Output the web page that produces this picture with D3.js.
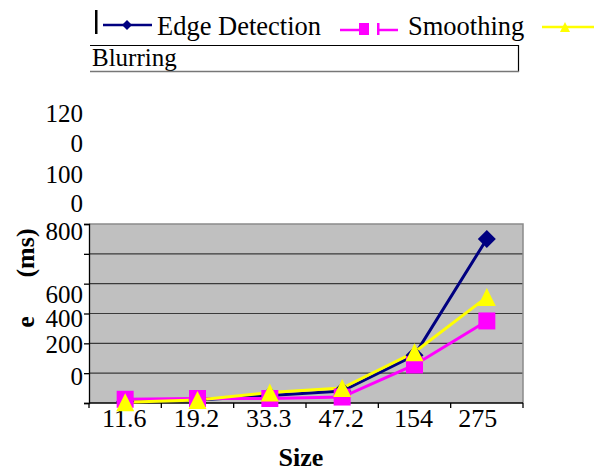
<!DOCTYPE html>
<html>
<head>
<meta charset="utf-8">
<script src="https://cdn.jsdelivr.net/npm/d3@7"></script>
</head>
<body style="margin:0;padding:0;background:#fff">
<svg id="chart" width="594" height="471" style="display:block"></svg>
<script>
// ---- data ----
const categories = ["11.6", "19.2", "33.3", "47.2", "154", "275"];
const edgeDetection = [10, 20, 50, 80, 320, 1100];
const smoothing = [25, 30, 30, 40, 255, 550];
const blurring = [5, 20, 70, 100, 340, 710];
const seriesNames = ["Edge Detection", "Smoothing", "Blurring"];
const yTicks = [0, 200, 400, 600, 800, 1000, 1200];
// labels as they appear (wrapped / clipped in the original)
const yTickLabelLines = ["120", "0", "100", "0", "800", "600", "400", "200", "0"];
const xTitle = "Size";
const yTitleParts = ["e", "(ms)"];

// ---- layout ----
const FONT = '"Liberation Serif"';
const svg = d3.select("#chart");
const plot = { left: 89, right: 523, top: 224, bottom: 403 };
const fontSize = 25;

const x = d3.scaleBand().domain(categories).range([plot.left, plot.right]).padding(0);
const y = d3.scaleLinear().domain([0, 1200]).range([plot.bottom, plot.top]);

function txt(sel) { return sel.style("font-family", FONT).attr("fill", "#000"); }

// plot background
svg.append("rect")
  .attr("x", plot.left).attr("y", plot.top)
  .attr("width", plot.right - plot.left).attr("height", plot.bottom - plot.top)
  .attr("fill", "#c0c0c0");

// gridlines
svg.append("g").selectAll("line").data(yTicks.filter(d => d > 0 && d < 1200)).join("line")
  .attr("x1", plot.left).attr("x2", plot.right)
  .attr("y1", d => y(d)).attr("y2", d => y(d))
  .attr("stroke", "#3a3a3a").attr("stroke-width", 1.2);

// top & right border
svg.append("path")
  .attr("d", `M${plot.left},${y(1200)}H${plot.right}V${plot.bottom}`)
  .attr("fill", "none").attr("stroke", "#8a8a8a").attr("stroke-width", 1.5);

// y axis
const yAxis = svg.append("g").attr("transform", `translate(${plot.left},0)`)
  .call(d3.axisLeft(y).tickValues(yTicks).tickSize(5).tickFormat(""));
yAxis.selectAll("line, path").attr("stroke", "#000").attr("stroke-width", 1.3);

// y tick labels (as rendered, wrapped)
const yLabelBaselines = [122, 152, 183, 212, 240, 303, 327, 353, 385];
txt(svg.append("g").selectAll("text").data(yTickLabelLines).join("text")
  .attr("x", 83).attr("y", (d, i) => yLabelBaselines[i])
  .attr("text-anchor", "end").attr("font-size", fontSize)
  .text(d => d));

// x axis line and boundary ticks
svg.append("line")
  .attr("x1", plot.left).attr("x2", plot.right)
  .attr("y1", plot.bottom).attr("y2", plot.bottom)
  .attr("stroke", "#000").attr("stroke-width", 1.3);
const bounds = categories.map(c => x(c)).concat([x(categories[categories.length - 1]) + x.bandwidth()]);
svg.append("g").selectAll("line").data(bounds).join("line")
  .attr("x1", d => d).attr("x2", d => d)
  .attr("y1", plot.bottom).attr("y2", plot.bottom + 5)
  .attr("stroke", "#000").attr("stroke-width", 1.3);

// x tick labels
txt(svg.append("g").selectAll("text").data(categories).join("text")
  .attr("x", (d, i) => x(d) + x.bandwidth() / 2 - (i === categories.length - 1 ? 9 : 1))
  .attr("y", 427)
  .attr("text-anchor", "middle").attr("font-size", 26)
  .text(d => d));

// axis titles
txt(svg.append("text").attr("x", 301).attr("y", 466)
  .attr("text-anchor", "middle").attr("font-size", 26).attr("font-weight", "bold")
  .text(xTitle));
txt(svg.append("text").attr("transform", "translate(34,322) rotate(-90)")
  .attr("text-anchor", "middle").attr("font-size", 26).attr("font-weight", "bold")
  .text(yTitleParts[0]));
txt(svg.append("text").attr("transform", "translate(34,253) rotate(-90)")
  .attr("text-anchor", "middle").attr("font-size", 26).attr("font-weight", "bold")
  .text(yTitleParts[1]));

// ---- series ----
const series = [
  { name: seriesNames[0], values: edgeDetection, color: "#000080", symbol: "diamond" },
  { name: seriesNames[1], values: smoothing, color: "#ff00ff", symbol: "square" },
  { name: seriesNames[2], values: blurring, color: "#ffff00", symbol: "triangle" }
];

const line = d3.line().x((d, i) => x(categories[i]) + x.bandwidth() / 2).y(d => y(d));

function markerPath(kind, s) {
  if (kind === "diamond") return `M0,${-s}L${s},0L0,${s}L${-s},0Z`;
  if (kind === "square") return `M${-s},${-s}H${s}V${s}H${-s}Z`;
  return `M0,${-s}L${s},${s}L${-s},${s}Z`;
}

series.forEach(sr => {
  svg.append("path").datum(sr.values)
    .attr("d", line).attr("fill", "none")
    .attr("stroke", sr.color).attr("stroke-width", 3);
});
series.forEach(sr => {
  const half = sr.symbol === "diamond" ? 9 : (sr.symbol === "square" ? 8.5 : 9);
  svg.append("g").selectAll("path").data(sr.values).join("path")
    .attr("transform", (d, i) => `translate(${x(categories[i]) + x.bandwidth() / 2},${y(d)})`)
    .attr("d", markerPath(sr.symbol, half))
    .attr("fill", sr.color);
});

// ---- legend ----
const lg = svg.append("g");
lg.append("rect").attr("x", 95).attr("y", 10).attr("width", 2.5).attr("height", 24).attr("fill", "#000");
// Edge Detection
lg.append("line").attr("x1", 103).attr("x2", 152).attr("y1", 25).attr("y2", 25)
  .attr("stroke", series[0].color).attr("stroke-width", 2.5);
lg.append("path").attr("transform", "translate(127,25)").attr("d", markerPath("diamond", 5)).attr("fill", series[0].color);
txt(lg.append("text").attr("x", 157).attr("y", 35).attr("font-size", 26.5).text(series[0].name));
// Smoothing
lg.append("line").attr("x1", 340).attr("x2", 359).attr("y1", 30).attr("y2", 30)
  .attr("stroke", series[1].color).attr("stroke-width", 2.5);
lg.append("line").attr("x1", 379).attr("x2", 398).attr("y1", 30).attr("y2", 30)
  .attr("stroke", series[1].color).attr("stroke-width", 2.5);
lg.append("rect").attr("x", 359).attr("y", 23).attr("width", 10).attr("height", 12).attr("fill", series[1].color);
lg.append("rect").attr("x", 377).attr("y", 23).attr("width", 2.5).attr("height", 12).attr("fill", series[1].color);
txt(lg.append("text").attr("x", 408).attr("y", 35).attr("font-size", 26.5).text(series[1].name));
// Blurring
lg.append("line").attr("x1", 542).attr("x2", 594).attr("y1", 27).attr("y2", 27)
  .attr("stroke", series[2].color).attr("stroke-width", 2.5);
lg.append("path").attr("transform", "translate(565,27)").attr("d", markerPath("triangle", 5)).attr("fill", series[2].color);
// box below
lg.append("line").attr("x1", 90).attr("x2", 519).attr("y1", 45.5).attr("y2", 45.5).attr("stroke", "#000").attr("stroke-width", 1.2);
lg.append("line").attr("x1", 518.5).attr("x2", 518.5).attr("y1", 45).attr("y2", 72).attr("stroke", "#000").attr("stroke-width", 1.2);
txt(lg.append("text").attr("x", 92).attr("y", 66).attr("font-size", 25).text(series[2].name));
lg.append("rect").attr("x", 90).attr("y", 71).attr("width", 429).attr("height", 10).attr("fill", "#fff");
lg.append("line").attr("x1", 90).attr("x2", 519).attr("y1", 71.5).attr("y2", 71.5).attr("stroke", "#777").attr("stroke-width", 1.5);
</script>
</body>
</html>
